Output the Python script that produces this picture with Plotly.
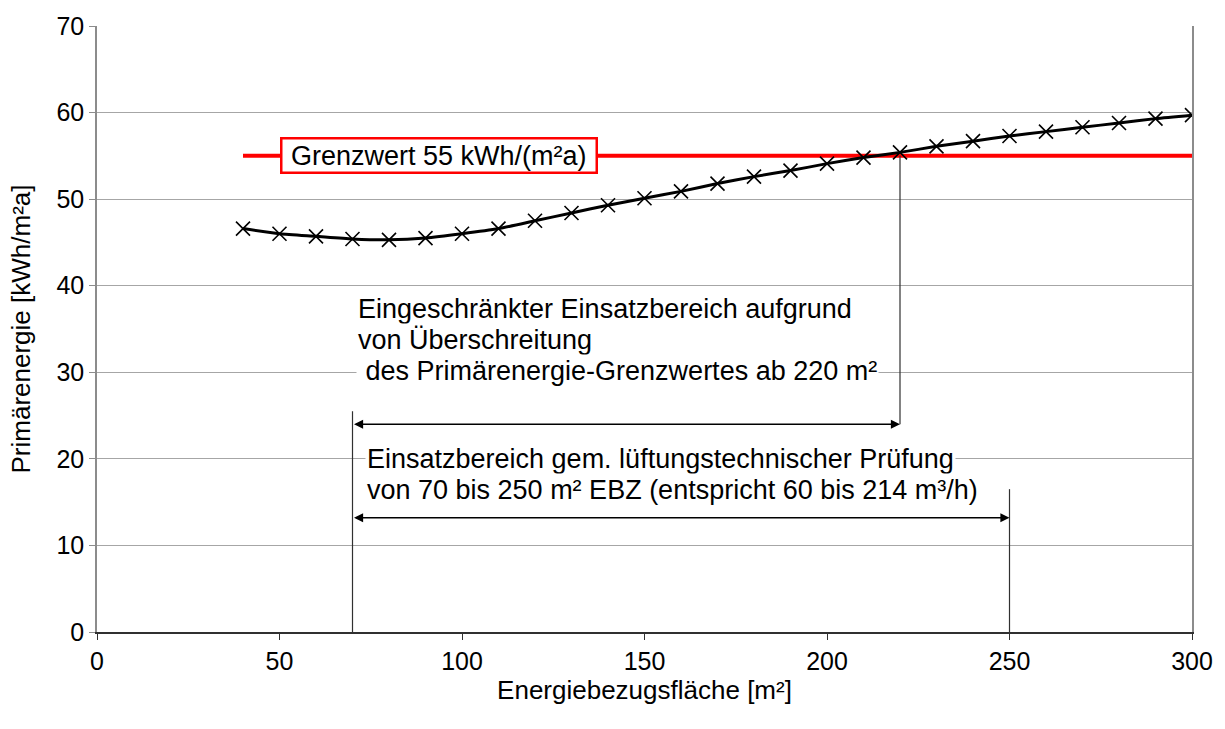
import plotly.graph_objects as go

# Data
area = [40, 50, 60, 70, 80, 90, 100, 110, 120, 130, 140, 150, 160, 170, 180,
        190, 200, 210, 220, 230, 240, 250, 260, 270, 280, 290, 300]
primary = [46.6, 46.0, 45.7, 45.4, 45.3, 45.5, 46.0, 46.6, 47.5, 48.4, 49.3, 50.1,
           50.9, 51.8, 52.6, 53.3, 54.1, 54.8, 55.4, 56.1, 56.7, 57.3, 57.8, 58.3,
           58.8, 59.3, 59.7]
limit_value = 55
limit_x = [40, 300]
limit_label = "\u00a0Grenzwert 55 kWh/(m²a)\u00a0"

range_test = [70, 250]      # lüftungstechnische Prüfung
range_limited = [70, 220]   # eingeschränkt
arrow_y_limited = 24.0
arrow_y_test = 13.2

text_limited = ["Eingeschränkter Einsatzbereich aufgrund",
                "von Überschreitung",
                "\u00a0des Primärenergie-Grenzwertes ab 220 m²"]
text_test = ["Einsatzbereich gem. lüftungstechnischer Prüfung",
             "von 70 bis 250 m² EBZ (entspricht 60 bis 214 m³/h)"]

x_ticks = [0, 50, 100, 150, 200, 250, 300]
y_ticks = [0, 10, 20, 30, 40, 50, 60, 70]

FONT = "Liberation Sans, Arial, sans-serif"
TXT = 27

fig = go.Figure()

fig.add_trace(go.Scatter(
    x=limit_x, y=[limit_value] * len(limit_x), mode="lines",
    line=dict(color="#ff0000", width=4), showlegend=False, hoverinfo="skip"))

fig.add_trace(go.Scatter(
    x=area, y=primary, mode="lines+markers",
    line=dict(color="black", width=3, shape="spline", smoothing=0.6),
    marker=dict(symbol="x-thin", size=14, line=dict(color="black", width=1.6)),
    showlegend=False))

shapes = [
    dict(type="line", xref="x", yref="y", x0=range_limited[0], x1=range_limited[0],
         y0=0, y1=25.5, line=dict(color="#303030", width=1.2)),
    dict(type="line", xref="x", yref="y", x0=range_limited[1], x1=range_limited[1],
         y0=arrow_y_limited, y1=limit_value, line=dict(color="#303030", width=1.2)),
    dict(type="line", xref="x", yref="y", x0=range_test[1], x1=range_test[1],
         y0=-0.9, y1=16.5, line=dict(color="#303030", width=1.2)),
]

annotations = []
# double-headed arrows
for (a, b), yv in [(range_limited, arrow_y_limited), (range_test, arrow_y_test)]:
    annotations.append(dict(
        x=b, y=yv, ax=a, ay=yv, xref="x", yref="y", axref="x", ayref="y",
        text="", showarrow=True, arrowhead=2, arrowside="end+start",
        arrowsize=1.4, arrowwidth=1.3, arrowcolor="black", standoff=0, startstandoff=0))

line_step = 3.6
for i, t in enumerate(text_limited):
    annotations.append(dict(
        x=71, y=37.3 - i * line_step, xref="x", yref="y", text=t, showarrow=False,
        xanchor="left", yanchor="middle", align="left",
        font=dict(family=FONT, size=TXT, color="black"),
        bgcolor="white", borderpad=1))
for i, t in enumerate(text_test):
    annotations.append(dict(
        x=73.5, y=20.0 - i * line_step, xref="x", yref="y", text=t, showarrow=False,
        xanchor="left", yanchor="middle", align="left",
        font=dict(family=FONT, size=TXT, color="black"),
        bgcolor="white", borderpad=1))

annotations.append(dict(
    x=50, y=limit_value, xref="x", yref="y", text=limit_label, showarrow=False,
    xanchor="left", yanchor="middle",
    font=dict(family=FONT, size=TXT, color="black"),
    bgcolor="white", bordercolor="#ff0000", borderwidth=2.5, borderpad=1))

fig.update_layout(
    width=1225, height=729,
    margin=dict(l=97, r=31, t=22, b=97),
    plot_bgcolor="white", paper_bgcolor="white",
    font=dict(family=FONT, size=25, color="black"),
    shapes=shapes, annotations=annotations,
    xaxis=dict(range=[0, 300], tickvals=x_ticks, showgrid=False, zeroline=False,
               showline=True, linecolor="#303030", linewidth=1.5,
               ticks="outside", ticklen=6, tickcolor="#303030",
               tickfont=dict(size=25),
               title=dict(text="Energiebezugsfläche [m²]", font=dict(size=26), standoff=6)),
    yaxis=dict(range=[0, 70], tickvals=y_ticks, showgrid=True, gridcolor="#a6a6a6",
               gridwidth=1, zeroline=False, showline=True, linecolor="#8c8c8c",
               linewidth=1.5, mirror=True,
               ticks="outside", ticklen=6, tickcolor="#8c8c8c",
               tickfont=dict(size=25),
               title=dict(text="Primärenergie [kWh/m²a]", font=dict(size=26), standoff=18)),
)

fig.write_html("out.html", config={"displayModeBar": False},
               post_script="document.body.style.margin='0';")
